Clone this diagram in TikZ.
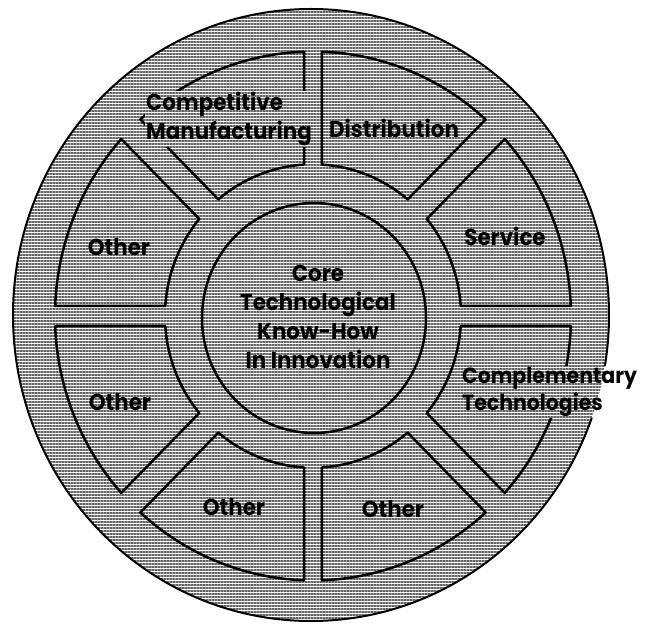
\documentclass[tikz,border=0pt]{standalone}
\usepackage{fontspec}
\setmainfont[FakeStretch=0.93]{Poppins}
\usetikzlibrary{patterns.meta}
\begin{document}
\begin{tikzpicture}[x=1pt,y=1pt,
    ring/.style={line width=2.5pt,line join=round},
    lbl/.style={font=\fontsize{23}{29}\selectfont\bfseries,inner sep=1pt}]
\useasboundingbox (-313,-308) rectangle (332,316);
\fill[pattern={Lines[angle=0,distance=3pt,line width=1.1pt]},pattern color=black!60]
    (-2,1) ellipse[x radius=298,y radius=306];
% labels
\node[lbl,align=center] (core) at (5,-1) {Core\\Technological\\Know-How\\In Innovation};
\node[lbl,align=left,anchor=west] (manuf) at (-168,197) {Competitive\\Manufacturing};
\node[lbl] (distr) at (81,188) {Distribution};
\node[lbl] (serv) at (192,80) {Service};
\node[lbl,font=\fontsize{22}{27}\selectfont\bfseries,align=left,anchor=west] (compl)
    at (148,-76) {Complementary\\Technologies};
\node[lbl] (oth1) at (-194,69) {Other};
\node[lbl] (oth2) at (-193,-86) {Other};
\node[lbl] (oth3) at (-79,-191) {Other};
\node[lbl] (oth4) at (80,-193) {Other};
% outlines, cut away under the long labels
\begin{scope}[even odd rule]
\clip (-313,-308) rectangle (332,316)
    (manuf.south east) rectangle (manuf.north west)
    (compl.south east) rectangle (compl.north west);
\draw[line width=2pt] (-2,1) ellipse[x radius=298,y radius=306];
\draw[ring] (1,-2) ellipse[x radius=112,y radius=115];
\begin{scope}[yscale=1.025]
\foreach \a/\da/\db in {0/10/13.5,45/13.5/9,90/9/13.5,135/13.5/10,
                        180/10/13.5,225/13.5/9,270/9/13.5,315/13.5/10}
  \draw[ring] ({\a+asin(\da/258)}:258)
    arc[start angle={\a+asin(\da/258)},end angle={\a+45-asin(\db/258)},radius=258]
    -- ({\a+45-asin(\db/148)}:148)
    arc[start angle={\a+45-asin(\db/148)},end angle={\a+asin(\da/148)},radius=148]
    -- cycle;
\end{scope}
\end{scope}
\end{tikzpicture}
\end{document}
